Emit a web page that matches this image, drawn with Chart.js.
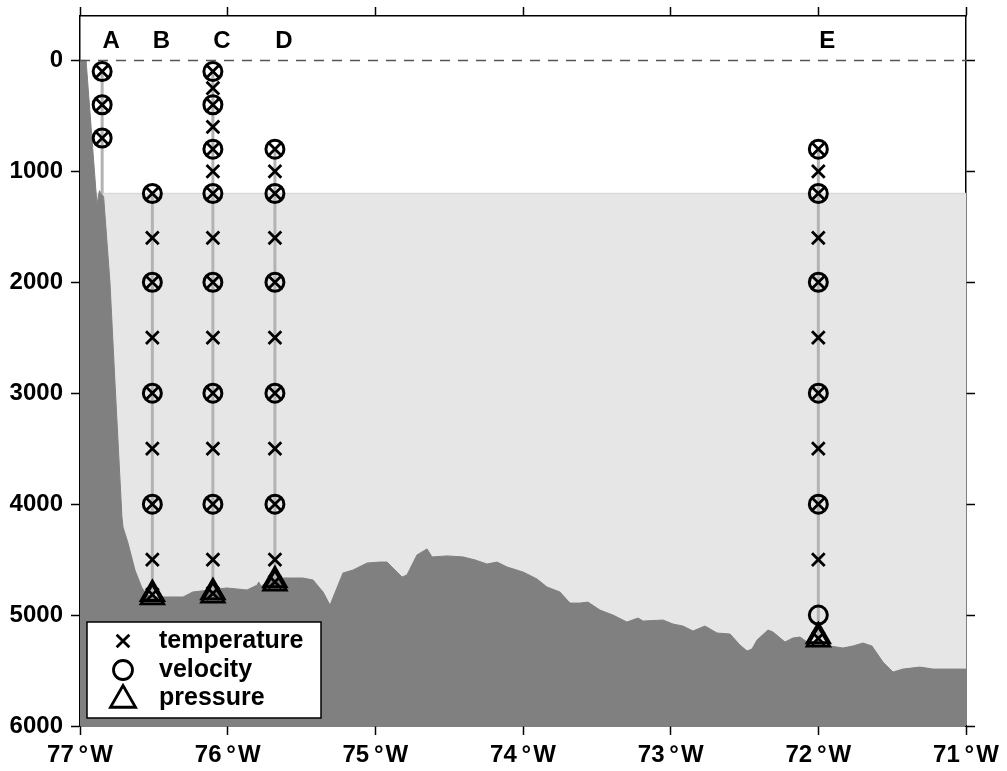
<!DOCTYPE html>
<html>
<head>
<meta charset="utf-8">
<script src="https://cdn.jsdelivr.net/npm/chart.js@4.4.1/dist/chart.umd.min.js"></script>
<style>
  html, body { margin: 0; padding: 0; background: #fff; }
  #wrap { width: 1007px; height: 771px; }
</style>
</head>
<body>
<div id="wrap"><canvas id="moorings" width="1007" height="771"></canvas></div>
<script>
// axis ticks
var xTicks = [-77, -76, -75, -74, -73, -72, -71];
var yTicks = [0, 1000, 2000, 3000, 4000, 5000, 6000];

// moorings A..E (longitude, depth range of the line)
var moorNames = ['A', 'B', 'C', 'D', 'E'];
var moorLon = [-76.85, -76.51, -76.10, -75.68, -72.00];
var moorTop = [100, 1200, 100, 800, 800];
var moorBottom = [1200, 4840, 4830, 4720, 5235];
var labelDepth = -170;

// instrument depths per mooring
var tempDepths = [
    [100, 400, 700],
    [1200, 1600, 2000, 2500, 3000, 3500, 4000, 4500, 4815],
    [100, 250, 400, 600, 800, 1000, 1200, 1600, 2000, 2500, 3000, 3500, 4000, 4500, 4805],
    [800, 1000, 1200, 1600, 2000, 2500, 3000, 3500, 4000, 4500, 4700],
    [800, 1000, 1200, 1600, 2000, 2500, 3000, 3500, 4000, 4500, 5210]
];
var velDepths = [
    [100, 400, 700],
    [1200, 2000, 3000, 4000],
    [100, 400, 800, 1200, 2000, 3000, 4000],
    [800, 1200, 2000, 3000, 4000],
    [800, 1200, 2000, 3000, 4000, 5000]
];
var presDepths = [
    [],
    [4810, 4840],
    [4795, 4825],
    [4686, 4716],
    [5191, 5221]
];

// shaded layer below 1200 m
var layerTop = 1200;

// bottom topography
var bathyLon = [-77.000, -76.959, -76.885, -76.868, -76.840, -76.797, -76.763, -76.716, -76.709,
    -76.675, -76.628, -76.607, -76.580, -76.546, -76.492, -76.302, -76.236, -76.120, -76.005,
    -75.869, -75.800, -75.790, -75.774, -75.693, -75.598, -75.490, -75.422, -75.354, -75.307,
    -75.219, -75.151, -75.056, -74.968, -74.921, -74.819, -74.786, -74.718, -74.650, -74.616,
    -74.515, -74.406, -74.325, -74.244, -74.176, -74.108, -74.000, -73.905, -73.838, -73.750,
    -73.682, -73.614, -73.560, -73.479, -73.391, -73.296, -73.221, -73.187, -73.052, -72.984,
    -72.917, -72.849, -72.768, -72.686, -72.598, -72.531, -72.483, -72.449, -72.415, -72.341,
    -72.307, -72.226, -72.172, -72.124, -72.077, -71.989, -71.921, -71.833, -71.765, -71.698,
    -71.637, -71.562, -71.494, -71.427, -71.312, -71.224, -71.129, -71.000];
var bathyDepth = [0, 0, 1300, 1175, 1230, 2004, 2906, 4115, 4206,
    4350, 4594, 4666, 4756, 4819, 4837, 4837, 4792, 4774, 4756,
    4774, 4730, 4702, 4740, 4666, 4666, 4666, 4684, 4792, 4910,
    4621, 4594, 4531, 4522, 4522, 4657, 4639, 4458, 4404, 4476,
    4467, 4476, 4503, 4540, 4522, 4567, 4612, 4675, 4747, 4792,
    4892, 4892, 4883, 4955, 5000, 5063, 5027, 5054, 5045, 5081,
    5099, 5144, 5099, 5162, 5171, 5270, 5324, 5306, 5225, 5135,
    5153, 5243, 5207, 5198, 5243, 5261, 5279, 5297, 5279, 5252,
    5279, 5424, 5514, 5487, 5469, 5487, 5487, 5487];

var FONT = "'Liberation Sans', Arial, Helvetica, sans-serif";
Chart.defaults.font.family = FONT;
Chart.defaults.color = '#000';

function pts(lon, depths) {
    return depths.map(function(d) { return {x: lon, y: d}; });
}

var datasets = [];

// markers (first = on top)
var presPts = [], velPts = [], tempPts = [];
for (var i = 0; i < moorNames.length; i++) {
    presPts = presPts.concat(pts(moorLon[i], presDepths[i]));
    velPts = velPts.concat(pts(moorLon[i], velDepths[i]));
    tempPts = tempPts.concat(pts(moorLon[i], tempDepths[i]));
}
datasets.push({label: 'pressure', data: presPts, pointStyle: 'triangle', pointRadius: 13,
    pointBorderWidth: 2.8, pointBorderColor: '#000', pointBackgroundColor: 'rgba(0,0,0,0)', order: 0});
datasets.push({label: 'velocity', data: velPts, pointStyle: 'circle', pointRadius: 9,
    pointBorderWidth: 3, pointBorderColor: '#000', pointBackgroundColor: 'rgba(0,0,0,0)', order: 1});
datasets.push({label: 'temperature', data: tempPts, pointStyle: 'crossRot', pointRadius: 9,
    pointBorderWidth: 2.8, pointBorderColor: '#000', order: 2});

// mooring lines
for (var j = 0; j < moorNames.length; j++) {
    datasets.push({label: 'line ' + moorNames[j], data: pts(moorLon[j], [moorTop[j], moorBottom[j]]),
        showLine: true, borderColor: '#b3b3b3', borderWidth: 3, pointRadius: 0, order: 3});
}

// sea surface
datasets.push({label: 'surface', data: [{x: xTicks[0], y: 0}, {x: xTicks[xTicks.length - 1], y: 0}],
    showLine: true, borderColor: '#555', borderWidth: 1.5, borderDash: [10, 8], pointRadius: 0, order: 5});

// topography
datasets.push({label: 'bottom', data: bathyLon.map(function(v, k) { return {x: v, y: bathyDepth[k]}; }),
    showLine: true, borderColor: '#808080', borderWidth: 1, backgroundColor: '#808080',
    fill: 'start', pointRadius: 0, tension: 0, order: 6});

// deep layer
datasets.push({label: 'layer', data: [{x: xTicks[0], y: layerTop}, {x: xTicks[xTicks.length - 1], y: layerTop}],
    showLine: true, borderColor: '#dadada', borderWidth: 1.5, backgroundColor: '#e6e6e6',
    fill: 'start', pointRadius: 0, order: 7});

var tickFont = {size: 24, weight: 'bold', family: FONT};
var gridOpts = {drawOnChartArea: false, tickLength: 9, tickColor: '#000', tickWidth: 1.5};
var borderOpts = {color: '#000', width: 1.5};

function fixTicks(list) {
    return function(s) { s.ticks = list.map(function(v) { return {value: v}; }); };
}

// station letters + legend box
var overlay = {
    id: 'overlay',
    afterDraw: function(chart) {
        var ctx = chart.ctx, xs = chart.scales.x, ys = chart.scales.y, area = chart.chartArea;
        ctx.save();
        ctx.fillStyle = '#000';
        ctx.font = 'bold 24px ' + FONT;
        ctx.textAlign = 'center';
        ctx.textBaseline = 'middle';
        for (var i = 0; i < moorNames.length; i++) {
            ctx.fillText(moorNames[i], xs.getPixelForValue(moorLon[i]) + 9, ys.getPixelForValue(labelDepth));
        }

        // legend
        var bx = area.left + 7, by = area.bottom - 104, bw = 234, bh = 96;
        ctx.fillStyle = '#fff';
        ctx.fillRect(bx, by, bw, bh);
        ctx.strokeStyle = '#000';
        ctx.lineWidth = 1.5;
        ctx.strokeRect(bx, by, bw, bh);

        var sx = bx + 36, tx = bx + 72;
        var rows = [by + 19, by + 48, by + 78];
        ctx.lineWidth = 2.8;
        // cross
        var r = 9 * Math.SQRT1_2;
        ctx.beginPath();
        ctx.moveTo(sx - r, rows[0] - r); ctx.lineTo(sx + r, rows[0] + r);
        ctx.moveTo(sx + r, rows[0] - r); ctx.lineTo(sx - r, rows[0] + r);
        ctx.stroke();
        // circle
        ctx.beginPath();
        ctx.arc(sx, rows[1], 9.5, 0, Math.PI * 2);
        ctx.stroke();
        // triangle
        var tr = 14.5;
        ctx.beginPath();
        ctx.moveTo(sx, rows[2] - tr);
        ctx.lineTo(sx + tr * Math.sin(Math.PI * 2 / 3), rows[2] + tr / 2);
        ctx.lineTo(sx - tr * Math.sin(Math.PI * 2 / 3), rows[2] + tr / 2);
        ctx.closePath();
        ctx.stroke();

        ctx.fillStyle = '#000';
        ctx.font = 'bold 25px ' + FONT;
        ctx.textAlign = 'left';
        ctx.fillText('temperature', tx, rows[0]);
        ctx.fillText('velocity', tx, rows[1]);
        ctx.fillText('pressure', tx, rows[2] - 2);
        ctx.restore();
    }
};

new Chart(document.getElementById('moorings'), {
    type: 'scatter',
    data: {datasets: datasets},
    options: {
        responsive: false,
        animation: false,
        events: [],
        layout: {padding: 0},
        plugins: {legend: {display: false}, tooltip: {enabled: false}},
        scales: {
            x: {
                type: 'linear', position: 'bottom', min: -77, max: -71,
                afterBuildTicks: fixTicks(xTicks),
                afterFit: function(s) { s.height = 45; s.paddingLeft = 0; s.paddingRight = 0; },
                ticks: {font: tickFont, color: '#000', padding: 6,
                    callback: function(v) { return (-v) + '\u2009°\u200aW'; }},
                grid: gridOpts, border: borderOpts
            },
            x2: {
                type: 'linear', position: 'top', min: -77, max: -71,
                afterBuildTicks: fixTicks(xTicks),
                afterFit: function(s) { s.height = 16; },
                ticks: {display: false},
                grid: gridOpts, border: borderOpts
            },
            y: {
                type: 'linear', position: 'left', reverse: true, min: -400, max: 6000,
                afterBuildTicks: fixTicks(yTicks),
                afterFit: function(s) { s.width = 80; s.paddingTop = 0; s.paddingBottom = 0; },
                ticks: {font: tickFont, color: '#000', padding: 8,
                    callback: function(v) { return String(v); }},
                grid: gridOpts, border: borderOpts
            },
            y2: {
                type: 'linear', position: 'right', reverse: true, min: -400, max: 6000,
                afterBuildTicks: fixTicks(yTicks),
                afterFit: function(s) { s.width = 41; s.paddingTop = 0; s.paddingBottom = 0; },
                ticks: {display: false},
                grid: gridOpts, border: borderOpts
            }
        }
    },
    plugins: [overlay]
});
</script>
</body>
</html>
